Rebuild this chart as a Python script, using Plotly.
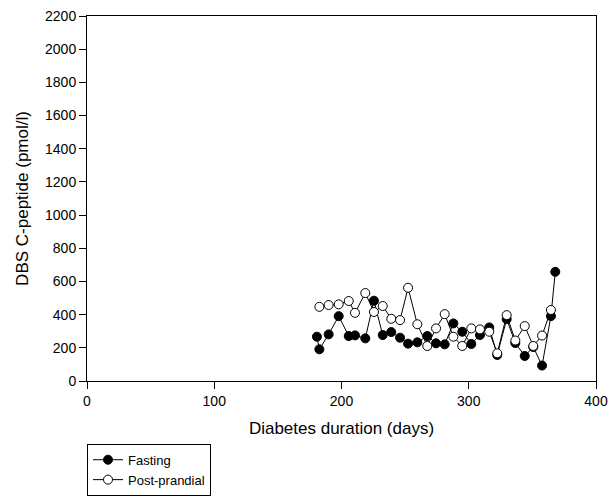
import plotly.graph_objects as go

fasting_days = [180.7, 182.6, 189.9, 197.8, 205.7, 210.6, 218.7, 225.5, 232.4, 239.1, 246.0, 252.3,
                259.6, 267.4, 274.3, 281.1, 287.9, 294.9, 302.0, 308.8, 316.1, 322.4, 329.8, 336.6,
                344.0, 350.7, 357.6, 364.6, 368.0]
fasting_cpep = [267, 191, 281, 391, 271, 275, 257, 484, 277, 295, 261, 225,
                233, 271, 227, 221, 347, 297, 223, 277, 323, 157, 373, 229,
                151, 205, 93, 391, 658]

pp_days = [182.6, 189.9, 197.8, 205.7, 210.6, 218.7, 225.5, 232.4, 239.1, 246.0, 252.3, 259.6,
           267.4, 274.3, 281.1, 287.9, 294.9, 302.0, 308.8, 316.1, 322.4, 329.8, 336.6, 344.0,
           350.7, 357.6, 364.6]
pp_cpep = [447, 458, 462, 482, 411, 530, 416, 452, 375, 367, 562, 342,
           211, 317, 403, 267, 211, 317, 311, 297, 167, 397, 244, 331,
           211, 274, 428]

x_ticks = [0, 100, 200, 300, 400]
y_ticks = [0, 200, 400, 600, 800, 1000, 1200, 1400, 1600, 1800, 2000, 2200]

FONT = "Liberation Sans, Arial"

fig = go.Figure()
fig.add_trace(go.Scatter(
    x=fasting_days, y=fasting_cpep, mode="lines+markers", name="Fasting",
    line=dict(color="black", width=1),
    marker=dict(color="black", size=9, line=dict(color="black", width=1)),
))
fig.add_trace(go.Scatter(
    x=pp_days, y=pp_cpep, mode="lines+markers", name="Post-prandial",
    line=dict(color="black", width=1),
    marker=dict(color="white", size=9, line=dict(color="black", width=1)),
))

axis_common = dict(
    showgrid=False, zeroline=False, showline=True, linecolor="black", linewidth=1,
    mirror=True, ticks="outside", ticklen=7, tickcolor="black",
    tickfont=dict(family=FONT, size=14, color="black"),
)
fig.update_xaxes(range=[0, 400], tickvals=x_ticks,
                 title=dict(text="Diabetes duration (days)",
                            font=dict(family=FONT, size=17, color="black"),
                            standoff=14),
                 **axis_common)
fig.update_yaxes(range=[0, 2200], tickvals=y_ticks,
                 title=dict(text="DBS C-peptide (pmol/l)",
                            font=dict(family=FONT, size=17, color="black"),
                            standoff=12),
                 **axis_common)

fig.update_layout(
    width=610, height=499,
    margin=dict(l=87, r=14, t=16, b=118, autoexpand=False),
    plot_bgcolor="white", paper_bgcolor="white",
    showlegend=True,
    legend=dict(x=0, y=-0.172, xanchor="left", yanchor="top",
                bordercolor="black", borderwidth=1, bgcolor="white",
                itemwidth=30, tracegroupgap=0,
                font=dict(family=FONT, size=13, color="black")),
)

fig.write_html("out.html")
